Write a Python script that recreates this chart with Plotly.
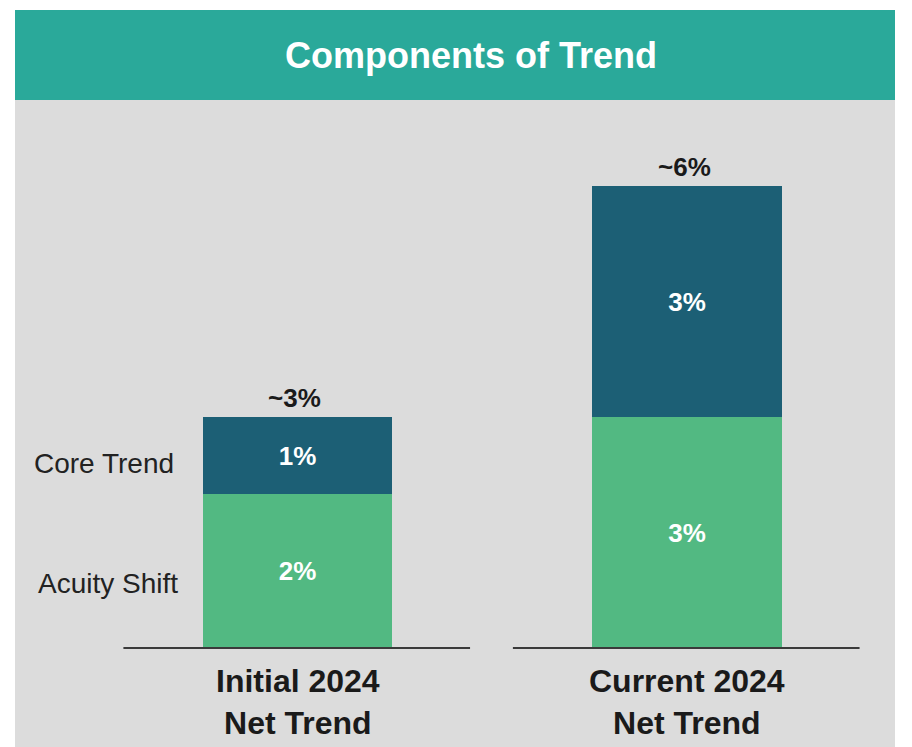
import plotly.graph_objects as go

# Data
categories = ["Initial 2024<br>Net Trend", "Current 2024<br>Net Trend"]
acuity_shift = [2, 3]
core_trend = [1, 3]
total_labels = ["~3%", "~6%"]
segment_names = ["Acuity Shift", "Core Trend"]

GREEN = "#52B982"
NAVY = "#1C5F75"
TEAL = "#2AA99A"
PANEL = "#DCDCDC"
FONT = "Liberation Sans, Arial, sans-serif"

fig = go.Figure()
fig.add_trace(go.Bar(
    x=categories, y=acuity_shift, name=segment_names[0],
    marker=dict(color=GREEN, line=dict(width=0)),
    text=[f"{v}%" for v in acuity_shift], textposition="inside",
    insidetextanchor="middle",
    textfont=dict(family=FONT, size=26, color="white", weight="bold"),
))
fig.add_trace(go.Bar(
    x=categories, y=core_trend, name=segment_names[1],
    marker=dict(color=NAVY, line=dict(width=0)),
    text=[f"{v}%" for v in core_trend], textposition="inside",
    insidetextanchor="middle",
    textfont=dict(family=FONT, size=26, color="white", weight="bold"),
))

# Totals above each stack
for i, cat in enumerate(categories):
    total = acuity_shift[i] + core_trend[i]
    fig.add_annotation(x=cat, y=total, text=f"<b>{total_labels[i]}</b>",
                       showarrow=False, yanchor="bottom", yshift=2, xshift=-3,
                       font=dict(family=FONT, size=26, color="#1a1a1a"))
    # category label below the baseline
    fig.add_annotation(x=cat, y=0, text=f"<b>{cat}</b>", showarrow=False,
                       yanchor="top", yshift=-13,
                       font=dict(family=FONT, size=32, color="#1a1a1a"))
    # baseline under each bar
    fig.add_shape(type="line", xref="x", yref="y",
                  x0=i - 0.447, x1=i + 0.443, y0=0, y1=0,
                  line=dict(color="#3a3a3a", width=2))

# Segment names to the left of the first stack
fig.add_annotation(x=0, y=acuity_shift[0] + core_trend[0] / 2, text=segment_names[1],
                   showarrow=False, xanchor="right", xshift=-122, yshift=-8,
                   font=dict(family=FONT, size=28, color="#222"))
fig.add_annotation(x=0, y=acuity_shift[0] / 2, text=segment_names[0],
                   showarrow=False, xanchor="right", xshift=-118, yshift=-13,
                   font=dict(family=FONT, size=28, color="#222"))

# Header banner with title
fig.add_shape(type="rect", xref="paper", yref="paper",
              x0=0, x1=1, y0=1, y1=1 + 90 / 647,
              fillcolor=TEAL, line=dict(width=0), layer="below")
fig.add_annotation(xref="paper", yref="paper", x=0.5, y=1 + 45 / 647,
                   yanchor="middle", xanchor="center", xshift=16,
                   text="<b>Components of Trend</b>", showarrow=False,
                   font=dict(family=FONT, size=36, color="white"))

fig.update_layout(
    width=912, height=747,
    margin=dict(l=15, r=17, t=100, b=0),
    paper_bgcolor="white", plot_bgcolor=PANEL,
    barmode="stack", bargap=0, showlegend=False,
    xaxis=dict(type="category", range=[-0.7253, 1.534], showticklabels=False,
               showgrid=False, zeroline=False, fixedrange=True),
    yaxis=dict(range=[-1.286, 7.117], showticklabels=False,
               showgrid=False, zeroline=False, fixedrange=True),
)
fig.update_traces(width=0.486)

fig.write_html("out.html")
